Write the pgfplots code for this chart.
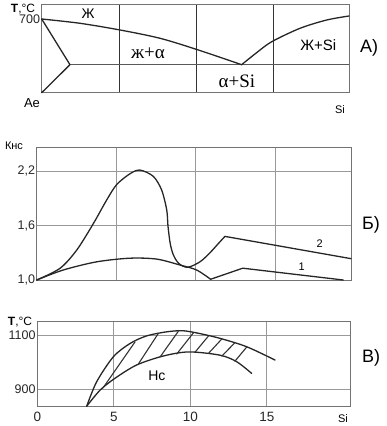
\documentclass[border=0pt]{standalone}
\usepackage{pgfplots}
\pgfplotsset{compat=1.18}
\usepackage{fontspec}
\setmainfont{Liberation Sans}
\newfontfamily\seriffont{Liberation Serif}
\begin{document}
\begin{tikzpicture}
\useasboundingbox (0pt,0pt) rectangle (387pt,426pt);
\pgfplotsset{
  panel/.style={scale only axis, anchor=south west, clip=false,
    axis line style={draw=black!55, line width=0.9pt},
    major tick length=0pt,
    grid=major, grid style={draw=black!40, line width=0.6pt},
    /pgf/number format/assume math mode=true,
    /pgf/number format/1000 sep={},
    ticklabel style={font=\fontsize{12.5}{14}\selectfont, text=black!85},
    yticklabel style={inner sep=1.5pt},
  },
  crv/.style={black!85, line width=1.3pt, line join=round, line cap=round},
  hatch/.style={black!80, line width=1.1pt, line cap=round},
}
% ---------------- Panel A ----------------
\begin{axis}[panel, at={(41.7pt,333.3pt)}, width=307.3pt, height=88.7pt,
  xmin=0, xmax=19.89, ymin=0, ymax=88.7,
  xtick={5,10,15}, xticklabels={}, ytick={73.7}, yticklabels={700},
  ymajorgrids=false, xmajorgrids=true,
  grid style={draw=black!80, line width=0.6pt}]
\addplot[black!65, line width=0.7pt] coordinates {(1.83,28) (19.89,28)};
\addplot[crv, smooth] coordinates {(0,73.7) (2.48,69.4) (5.07,62.7) (7.66,54.4) (10.14,42.7) (12.94,28)};
\addplot[crv, smooth] coordinates {(12.94,28) (13.91,40) (14.89,51) (16.72,64.4) (18.45,72.7) (19.89,76.7)};
\addplot[crv] coordinates {(0,73.7) (1.83,28) (0,0)};
\node[font=\fontsize{14}{16}\selectfont] at (axis cs:3.0,78.7) {Ж};
\node[font=\seriffont\fontsize{19}{20}\selectfont] at (axis cs:6.88,39.7) {ж+α};
\node[font=\seriffont\fontsize{19}{20}\selectfont] at (axis cs:12.64,11.7) {α+Si};
\node[font=\fontsize{15}{16}\selectfont] at (axis cs:17.9,47.7) {Ж+Si};
\end{axis}
\node[font=\fontsize{12}{14}\selectfont] at (23pt,417pt) {\textbf{T},°C};
\node[font=\fontsize{13}{14}\selectfont] at (32pt,323pt) {Ae};
\node[font=\fontsize{11}{12}\selectfont] at (340pt,316pt) {Si};
\node[font=\fontsize{18}{20}\selectfont] at (369pt,378pt) {А)};
% ---------------- Panel B ----------------
\begin{axis}[panel, at={(36.7pt,146pt)}, width=314.3pt, height=133pt,
  xmin=0, xmax=19.77, ymin=1, ymax=2.464,
  xtick={5,10,15}, xticklabels={}, ytick={1,1.6,2.2},
  yticklabel style={/pgf/number format/.cd, fixed, fixed zerofill, precision=1, use comma}]
\addplot[crv, smooth] coordinates {(0,1) (1.47,1.129) (2.52,1.33) (3.56,1.62) (4.4,1.88) (5.03,2.05) (5.87,2.17) (6.5,2.21) (7.34,2.14) (7.86,1.99) (8.18,1.77) (8.26,1.59) (8.4,1.40) (8.6,1.275) (8.95,1.18) (9.5,1.14) (10.27,1.20) (10.9,1.30) (11.42,1.40) (11.84,1.48)};
\addplot[crv] coordinates {(11.84,1.48) (19.77,1.235)};
\addplot[crv, smooth] coordinates {(0,1) (1.67,1.11) (3.77,1.20) (5.87,1.24) (7.55,1.23) (9.01,1.165) (10.06,1.11) (10.94,1.008)};
\addplot[crv] coordinates {(10.94,1.008) (12.96,1.13) (19.28,1.0)};
\node[font=\fontsize{11}{12}\selectfont] at (axis cs:17.8,1.40) {2};
\node[font=\fontsize{11}{12}\selectfont] at (axis cs:16.67,1.146) {1};
\end{axis}
\node[font=\fontsize{11}{12}\selectfont] at (14pt,280pt) {Кнс};
\node[font=\fontsize{18}{20}\selectfont] at (371pt,201pt) {Б)};
% ---------------- Panel C ----------------
\begin{axis}[panel, at={(37.3pt,19.5pt)}, width=312.7pt, height=85pt,
  xmin=0, xmax=20.44, ymin=837, ymax=1150,
  xtick={0,5,10,15}, ytick={900,1100},
  xticklabel style={font=\fontsize{13.5}{15}\selectfont, yshift=-2pt}]
\addplot[crv, smooth] coordinates {(3.23,838) (3.88,928) (4.97,1020) (6.06,1069) (7.15,1097) (8.46,1112) (9.5,1116) (10.5,1107) (11.94,1088) (13.69,1057) (15.54,1008)};
\addplot[crv, smooth] coordinates {(3.23,838) (4.10,897) (5.08,941) (6.50,990) (8.24,1023) (9.9,1038) (11.94,1026) (13.03,1002) (14.01,959)};
\addplot[hatch] coordinates {(4.29,905) (6.39,1075)};
\addplot[hatch] coordinates {(6.60,993) (7.91,1106)};
\addplot[hatch] coordinates {(8.02,1019) (9.22,1114)};
\addplot[hatch] coordinates {(9.11,1030) (10.20,1108)};
\addplot[hatch] coordinates {(10.31,1037) (11.18,1096)};
\addplot[hatch] coordinates {(11.18,1032) (12.05,1085)};
\addplot[hatch] coordinates {(12.05,1022) (12.92,1072)};
\addplot[hatch] coordinates {(12.92,1004) (13.69,1056)};
\node[font=\fontsize{14}{16}\selectfont] at (axis cs:7.82,949) {Нс};
\end{axis}
\node[font=\fontsize{12}{14}\selectfont] at (20pt,104pt) {\textbf{T},°C};
\node[font=\fontsize{11}{12}\selectfont] at (343pt,7pt) {Si};
\node[font=\fontsize{18}{20}\selectfont] at (371pt,68pt) {В)};
\end{tikzpicture}
\end{document}
